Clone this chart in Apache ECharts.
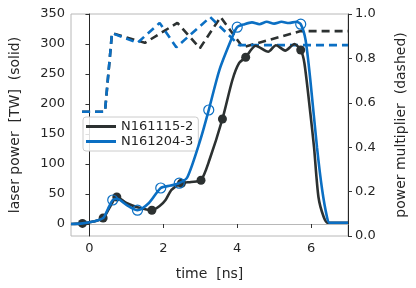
<!DOCTYPE html>
<html>
<head>
<meta charset="utf-8">
<script src="https://cdn.jsdelivr.net/npm/echarts@6/dist/echarts.min.js"></script>
<style>
html,body{margin:0;padding:0;background:#fff;}
#chart{width:416px;height:288px;}
</style>
</head>
<body>
<div id="chart"></div>
<script>
// ---- data ----
var blackName = 'N161115-2';
var blueName = 'N161204-3';

// solid: laser power [TW] vs time [ns]
var blackT = [-0.5, -0.19, 0.1, 0.37, 0.55, 0.74, 1.0, 1.3, 1.69, 1.9, 2.06, 2.22, 2.49, 2.75, 3.02, 3.25, 3.6, 3.87, 4.05, 4.23, 4.5, 4.84, 5.05, 5.3, 5.55, 5.72, 5.82, 5.98, 6.08, 6.2, 6.34, 6.45, 7.0];
var blackP = [0, 1, 4, 10, 28, 45, 35, 28, 23, 30, 40, 57, 68, 70, 73, 107, 175, 240, 268, 278, 297, 287, 298, 289, 300, 290, 268, 185, 128, 45, 12, 2, 2];
var blueT = [-0.5, -0.19, 0.1, 0.37, 0.5, 0.63, 0.75, 1.0, 1.3, 1.61, 1.93, 2.2, 2.43, 2.65, 3.0, 3.23, 3.52, 3.87, 4.0, 4.2, 4.4, 4.6, 4.8, 5.0, 5.2, 5.4, 5.6, 5.72, 5.85, 5.98, 6.16, 6.3, 6.43, 6.5, 7.0];
var blueP = [0, 1, 4, 10, 25, 40, 42, 32, 23, 35, 60, 64, 68, 78, 140, 190, 257, 312, 328, 333, 336, 333, 337, 334, 337, 335, 337, 333, 307, 240, 128, 57, 12, 2, 2];

// markers on the solid curves
var blackMarkT = [-0.19, 0.37, 0.74, 1.69, 2.49, 3.02, 3.6, 4.23, 5.72];
var blackMarkP = [1, 10, 45, 23, 68, 73, 175, 278, 290];
var blueMarkT = [0.63, 1.3, 1.93, 2.43, 3.23, 4.0, 5.72];
var blueMarkP = [40, 23, 60, 68, 190, 328, 333];

// dashed: power multiplier vs time [ns]
var blackDashT = [-0.2, 0.42, 0.61, 1.5, 2.38, 2.99, 3.55, 4.15, 5.72, 7.0];
var blackDashM = [0.56, 0.56, 0.914, 0.87, 0.96, 0.846, 0.986, 0.85, 0.923, 0.923];
var blueDashT = [-0.2, 0.42, 0.61, 1.3, 1.9, 2.35, 3.27, 4.05, 7.0];
var blueDashM = [0.56, 0.56, 0.914, 0.87, 0.96, 0.85, 0.986, 0.86, 0.86];

// tick labels
var xTicks = [0, 2, 4, 6];
var yLeftTicks = [0, 50, 100, 150, 200, 250, 300, 350];

// ---- build ----
function pairs(t, v) { return t.map(function (x, i) { return [x, v[i]]; }); }

var BLACK = '#2c3131';
var BLUE = '#0b6fc3';
var FONT = 'DejaVu Sans';
var TXT = '#262626';

var chart = echarts.init(document.getElementById('chart'), null, {renderer: 'canvas'});
var option = {
  animation: false,
  backgroundColor: '#fff',
  textStyle: {fontFamily: FONT},
  grid: {left: 68, right: 64, top: 14, bottom: 52, show: true, borderColor: '#b8b8b8', borderWidth: 1, backgroundColor: 'transparent'},
  legend: {
    data: [blackName, blueName],
    orient: 'vertical',
    left: 83, top: 117,
    icon: 'rect',
    itemWidth: 30, itemHeight: 3,
    itemGap: 2,
    padding: [3, 5, 3, 3],
    borderColor: '#cccccc', borderWidth: 1, borderRadius: 3,
    backgroundColor: 'rgba(255,255,255,0.85)',
    textStyle: {fontFamily: FONT, fontSize: 13, color: TXT}
  },
  xAxis: {
    type: 'value', min: -0.5, max: 7,
    name: 'time  [ns]', nameLocation: 'middle', nameGap: 31,
    nameTextStyle: {fontFamily: FONT, fontSize: 14, color: TXT},
    axisLine: {show: true, lineStyle: {color: '#b8b8b8', width: 1}},
    axisTick: {show: true, length: 4, customValues: xTicks, lineStyle: {color: '#333'}},
    axisLabel: {customValues: xTicks, margin: 6, fontFamily: FONT, fontSize: 13, color: TXT},
    splitLine: {show: false}
  },
  yAxis: [{
    type: 'value', min: -20, max: 350, position: 'left',
    name: 'laser power  [TW]  (solid)', nameLocation: 'middle', nameGap: 49, nameRotate: 90,
    nameTextStyle: {fontFamily: FONT, fontSize: 14, color: TXT},
    axisLine: {show: true, lineStyle: {color: '#262626', width: 1}},
    axisTick: {show: true, length: 4, customValues: yLeftTicks, lineStyle: {color: '#333'}},
    axisLabel: {customValues: yLeftTicks, margin: 6, fontFamily: FONT, fontSize: 13, color: TXT},
    splitLine: {show: false}
  }, {
    type: 'value', min: 0, max: 1, interval: 0.2, position: 'right',
    name: 'power multiplier  (dashed)', nameLocation: 'middle', nameGap: 46, nameRotate: 90,
    nameTextStyle: {fontFamily: FONT, fontSize: 14, color: TXT},
    axisLine: {show: true, lineStyle: {color: '#262626', width: 1}},
    axisTick: {show: true, length: 4, lineStyle: {color: '#333'}},
    axisLabel: {margin: 7, fontFamily: FONT, fontSize: 13, color: TXT, formatter: function (v) { return v.toFixed(1); }},
    splitLine: {show: false}
  }],
  series: [
    {name: 'bd', type: 'line', yAxisIndex: 1, data: pairs(blackDashT, blackDashM), showSymbol: false,
     lineStyle: {color: BLACK, width: 2.6, type: [8, 5]}, itemStyle: {color: BLACK}, z: 2},
    {name: 'ud', type: 'line', yAxisIndex: 1, data: pairs(blueDashT, blueDashM), showSymbol: false,
     lineStyle: {color: BLUE, width: 2.6, type: [8, 5]}, itemStyle: {color: BLUE}, z: 3},
    {name: blackName, type: 'line', data: pairs(blackT, blackP), showSymbol: false, smooth: 0.25,
     lineStyle: {color: BLACK, width: 2.6}, itemStyle: {color: BLACK}, z: 4},
    {name: 'bm', type: 'scatter', data: pairs(blackMarkT, blackMarkP), symbol: 'circle', symbolSize: 9,
     itemStyle: {color: BLACK, opacity: 1}, z: 5},
    {name: blueName, type: 'line', data: pairs(blueT, blueP), showSymbol: false, smooth: 0.25,
     lineStyle: {color: BLUE, width: 2.6}, itemStyle: {color: BLUE}, z: 6},
    {name: 'um', type: 'scatter', data: pairs(blueMarkT, blueMarkP), symbol: 'circle', symbolSize: 10,
     itemStyle: {color: 'rgba(255,255,255,0)', borderColor: BLUE, borderWidth: 1.2, opacity: 1}, z: 7}
  ]
};
chart.setOption(option);
</script>
</body>
</html>
